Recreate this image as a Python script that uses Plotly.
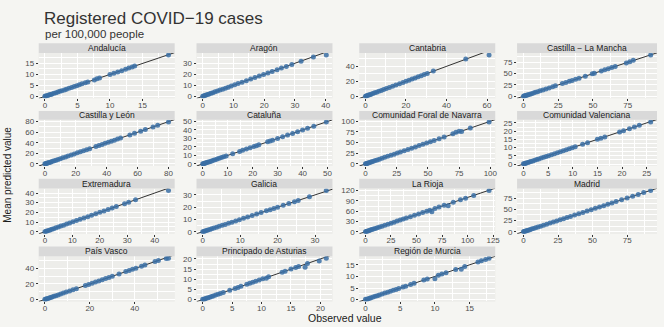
import plotly.graph_objects as go

# observed vs mean predicted values, per region
regions = ["Andalucía", "Aragón", "Cantabria", "Castilla \u2212 La Mancha",
           "Castilla y León", "Cataluña", "Comunidad Foral de Navarra", "Comunidad Valenciana",
           "Extremadura", "Galicia", "La Rioja", "Madrid",
           "País Vasco", "Principado de Asturias", "Región de Murcia"]

andalucia_obs = [0.0, 0.1, 0.3, 0.5, 0.7, 0.9, 1.1, 1.4, 1.7, 2.0, 2.3, 2.6, 3.0, 3.3, 3.7, 4.1, 4.5, 4.9, 5.3, 5.7, 6.2, 6.6, 7.6, 8.0, 8.4, 10.0, 10.6, 11.2, 11.8, 12.4, 12.9, 13.4, 13.8, 19.0]
andalucia_pred = [0.1, 0.2, 0.3, 0.5, 0.7, 0.9, 1.1, 1.4, 1.7, 2.0, 2.3, 2.6, 2.9, 3.3, 3.7, 4.1, 4.5, 4.9, 5.3, 5.7, 6.2, 6.6, 7.5, 8.0, 8.4, 10.0, 10.5, 11.1, 11.7, 12.4, 12.9, 13.4, 13.8, 18.8]

aragon_obs = [0.0, 0.3, 0.7, 1.1, 1.6, 2.1, 2.7, 3.3, 4.0, 4.8, 5.6, 6.5, 7.4, 8.3, 9.3, 10.4, 11.5, 12.8, 14.2, 15.6, 17.0, 18.4, 19.8, 21.2, 22.6, 24.2, 25.6, 27.2, 29.0, 32.0, 36.0, 40.2]
aragon_pred = [0.1, 0.3, 0.7, 1.1, 1.6, 2.1, 2.7, 3.3, 4.0, 4.8, 5.6, 6.4, 7.4, 8.3, 9.3, 10.4, 11.5, 12.8, 14.2, 15.6, 17.0, 18.4, 19.7, 21.2, 22.6, 24.1, 25.6, 27.1, 28.9, 31.8, 35.6, 37.4]

cantabria_obs = [0.0, 0.4, 0.9, 1.5, 2.1, 2.8, 3.6, 4.5, 5.5, 6.6, 7.8, 9.0, 10.3, 11.8, 13.4, 15.0, 16.8, 18.5, 20.0, 21.5, 23.0, 24.5, 26.0, 27.5, 29.0, 30.5, 33.5, 49.5, 61.0]
cantabria_pred = [0.1, 0.4, 0.9, 1.5, 2.1, 2.8, 3.6, 4.5, 5.5, 6.6, 7.8, 9.0, 10.3, 11.8, 13.4, 15.0, 16.8, 18.5, 20.0, 21.5, 23.0, 24.5, 26.0, 27.3, 29.0, 30.5, 33.8, 49.8, 55.0]

clm_obs = [0.0, 0.5, 1.0, 1.8, 2.6, 3.5, 4.6, 5.8, 7.2, 8.6, 10.2, 12.0, 14.0, 16.2, 18.5, 21.0, 23.0, 28.0, 30.5, 33.0, 35.0, 37.5, 40.0, 44.5, 49.5, 51.0, 56.0, 58.5, 61.0, 63.5, 66.0, 74.0, 76.5, 79.0, 91.5]
clm_pred = [0.2, 0.5, 1.0, 1.8, 2.6, 3.5, 4.6, 5.8, 7.2, 8.6, 10.2, 12.0, 14.0, 16.2, 18.5, 21.0, 23.0, 28.0, 30.5, 33.0, 35.0, 37.5, 40.0, 44.5, 49.5, 51.0, 56.0, 58.5, 61.0, 63.5, 66.0, 73.5, 76.5, 79.5, 91.0]

cyl_obs = [0.0, 0.5, 1.0, 1.6, 2.3, 3.0, 3.9, 4.9, 6.0, 7.2, 8.5, 10.0, 11.6, 13.4, 15.0, 17.0, 19.0, 21.0, 23.0, 25.0, 27.0, 29.0, 33.0, 35.0, 37.0, 39.0, 41.0, 43.0, 45.0, 47.0, 49.0, 55.0, 58.0, 62.0, 65.0, 70.0, 73.0, 80.0]
cyl_pred = [0.2, 0.5, 1.0, 1.6, 2.3, 3.0, 3.9, 4.9, 6.0, 7.2, 8.5, 10.0, 11.6, 13.4, 15.0, 17.0, 19.0, 21.0, 23.0, 25.0, 27.0, 29.0, 33.0, 35.0, 37.0, 39.0, 41.0, 43.0, 45.0, 47.0, 49.0, 55.0, 58.0, 62.0, 65.0, 70.0, 73.0, 79.5]

cataluna_obs = [0.0, 0.3, 0.6, 1.0, 1.4, 1.9, 2.4, 3.0, 3.6, 4.3, 5.0, 5.8, 6.6, 7.5, 8.4, 9.4, 12.0, 14.8, 16.0, 17.5, 19.0, 20.5, 21.5, 22.5, 26.0, 27.0, 28.0, 30.0, 32.0, 34.0, 36.0, 38.0, 40.0, 42.0, 44.5, 49.5]
cataluna_pred = [0.1, 0.3, 0.6, 1.0, 1.4, 1.9, 2.4, 3.0, 3.6, 4.3, 5.0, 5.8, 6.6, 7.5, 8.4, 9.4, 12.0, 14.8, 16.0, 17.5, 19.0, 20.5, 21.5, 22.5, 26.0, 27.0, 28.0, 30.0, 32.0, 34.0, 36.0, 38.0, 40.0, 42.0, 44.5, 49.5]

navarra_obs = [0.0, 0.6, 1.2, 2.0, 2.9, 3.9, 5.0, 6.3, 7.8, 9.4, 11.2, 13.2, 15.4, 17.8, 20.4, 23.0, 25.5, 28.0, 31.0, 34.0, 37.0, 40.0, 43.0, 46.0, 49.0, 52.0, 55.0, 59.0, 63.0, 70.0, 72.5, 75.0, 77.0, 84.0, 99.0]
navarra_pred = [0.2, 0.6, 1.2, 2.0, 2.9, 3.9, 5.0, 6.3, 7.8, 9.4, 11.2, 13.2, 15.4, 17.8, 20.4, 23.0, 25.5, 28.0, 31.0, 34.0, 37.0, 40.0, 43.0, 46.0, 49.0, 52.0, 55.0, 59.0, 63.0, 71.0, 74.0, 76.5, 76.0, 84.0, 98.5]

valenciana_obs = [0.0, 0.2, 0.4, 0.6, 0.9, 1.2, 1.5, 1.9, 2.3, 2.7, 3.1, 3.6, 4.1, 4.6, 5.1, 5.7, 6.3, 6.9, 7.5, 8.1, 8.7, 9.3, 9.9, 10.5, 12.0, 13.0, 15.0, 15.7, 16.5, 19.5, 20.3, 21.5, 22.5, 23.5, 25.8]
valenciana_pred = [0.1, 0.2, 0.4, 0.6, 0.9, 1.2, 1.5, 1.9, 2.3, 2.7, 3.1, 3.6, 4.1, 4.6, 5.1, 5.7, 6.3, 6.9, 7.5, 8.1, 8.7, 9.3, 9.9, 10.5, 12.0, 13.0, 15.0, 15.7, 16.5, 19.5, 20.3, 21.5, 22.5, 23.5, 25.6]

extremadura_obs = [0.0, 0.4, 0.8, 1.3, 1.9, 2.5, 3.2, 4.0, 4.9, 5.8, 6.8, 7.9, 9.0, 10.2, 11.5, 12.8, 14.2, 15.6, 17.0, 18.5, 20.0, 21.5, 23.0, 24.5, 26.0, 29.0, 30.5, 33.0, 45.0]
extremadura_pred = [0.1, 0.4, 0.8, 1.3, 1.9, 2.5, 3.2, 4.0, 4.9, 5.8, 6.8, 7.9, 9.0, 10.2, 11.5, 12.8, 14.2, 15.6, 17.0, 18.5, 20.0, 21.5, 23.0, 24.5, 26.0, 29.0, 30.5, 33.0, 42.5]

galicia_obs = [0.0, 0.3, 0.6, 1.0, 1.4, 1.9, 2.4, 3.0, 3.7, 4.4, 5.2, 6.0, 6.9, 7.8, 8.8, 9.8, 10.9, 12.0, 13.2, 14.4, 15.6, 17.0, 18.0, 19.0, 20.0, 21.5, 23.0, 24.5, 25.5, 28.5, 33.0]
galicia_pred = [0.1, 0.3, 0.6, 1.0, 1.4, 1.9, 2.4, 3.0, 3.7, 4.4, 5.2, 6.0, 6.9, 7.8, 8.8, 9.8, 10.9, 12.0, 13.2, 14.4, 15.6, 17.0, 18.0, 19.0, 20.0, 21.5, 23.0, 24.5, 25.5, 28.5, 33.5]

rioja_obs = [0.0, 0.7, 1.5, 2.5, 3.6, 4.8, 6.2, 7.8, 9.6, 11.6, 13.8, 16.2, 19.0, 22.0, 25.0, 28.0, 31.0, 34.0, 37.0, 40.0, 44.0, 48.0, 52.0, 56.0, 60.0, 63.0, 65.0, 68.0, 72.0, 77.0, 81.0, 86.0, 93.0, 98.0, 106.0, 121.0]
rioja_pred = [0.3, 0.7, 1.5, 2.5, 3.6, 4.8, 6.2, 7.8, 9.6, 11.6, 13.8, 16.2, 19.0, 22.0, 25.0, 28.0, 31.0, 34.0, 37.0, 40.0, 44.0, 48.0, 52.0, 56.0, 60.0, 63.0, 58.5, 68.0, 72.0, 77.0, 76.0, 86.0, 93.0, 98.0, 106.0, 120.0]

madrid_obs = [0.0, 0.5, 1.1, 1.8, 2.6, 3.5, 4.6, 5.8, 7.2, 8.8, 10.5, 12.4, 14.5, 16.8, 19.2, 21.6, 24.0, 26.5, 29.0, 31.5, 34.0, 37.0, 40.0, 43.0, 46.0, 49.0, 52.0, 55.0, 58.0, 61.0, 64.0, 67.0, 71.0, 75.0, 79.0, 83.0, 87.0, 92.0]
madrid_pred = [0.2, 0.5, 1.1, 1.8, 2.6, 3.5, 4.6, 5.8, 7.2, 8.8, 10.5, 12.4, 14.5, 16.8, 19.2, 21.6, 24.0, 26.5, 29.0, 31.5, 34.0, 37.0, 40.0, 43.0, 46.0, 49.0, 52.0, 55.0, 58.0, 61.0, 64.0, 67.0, 71.0, 75.0, 79.0, 83.0, 87.0, 91.5]

vasco_obs = [0.0, 0.4, 0.8, 1.3, 1.9, 2.5, 3.2, 4.0, 4.9, 5.9, 7.0, 8.2, 9.5, 11.0, 12.5, 14.0, 18.0, 19.5, 21.0, 22.5, 24.0, 25.5, 27.0, 28.5, 30.0, 33.0, 36.0, 37.5, 39.0, 40.5, 43.0, 44.5, 49.0, 50.5, 54.0, 55.0]
vasco_pred = [0.1, 0.4, 0.8, 1.3, 1.9, 2.5, 3.2, 4.0, 4.9, 5.9, 7.0, 8.2, 9.5, 11.0, 12.5, 14.0, 18.0, 19.5, 21.0, 22.5, 24.0, 25.5, 27.0, 28.5, 30.0, 33.0, 36.0, 37.5, 39.0, 40.5, 43.0, 44.5, 49.0, 50.5, 53.0, 53.2]

asturias_obs = [0.0, 0.2, 0.4, 0.6, 0.9, 1.2, 1.5, 1.8, 2.2, 2.6, 3.0, 3.5, 4.6, 5.5, 6.0, 6.5, 7.5, 8.0, 8.5, 9.0, 9.6, 10.2, 10.8, 11.2, 13.5, 14.0, 15.0, 15.8, 16.3, 17.4, 17.8, 19.8, 21.0]
asturias_pred = [0.1, 0.2, 0.4, 0.6, 0.9, 1.2, 1.5, 1.8, 2.2, 2.6, 3.0, 3.5, 4.6, 5.5, 6.0, 6.5, 7.5, 8.0, 8.5, 9.0, 9.6, 10.2, 10.5, 11.2, 13.5, 14.0, 15.0, 15.8, 16.3, 15.9, 17.7, 19.0, 20.3]

murcia_obs = [0.0, 0.2, 0.4, 0.6, 0.8, 1.1, 1.4, 1.7, 2.0, 2.4, 2.8, 3.2, 3.6, 4.0, 4.4, 4.8, 5.4, 5.8, 6.5, 7.0, 8.4, 8.9, 10.0, 10.5, 11.0, 11.6, 13.0, 13.8, 14.3, 16.2, 16.7, 17.3, 17.8]
murcia_pred = [0.1, 0.2, 0.4, 0.6, 0.8, 1.1, 1.4, 1.7, 2.0, 2.4, 2.8, 3.2, 3.6, 4.0, 4.4, 4.8, 5.4, 5.8, 6.5, 7.0, 8.4, 8.9, 9.0, 10.5, 11.0, 11.6, 13.0, 13.1, 14.3, 16.2, 16.7, 17.3, 17.8]

# tick spacing (x, y) per panel
x_steps = [5, 10, 20, 25, 20, 10, 25, 5, 10, 10, 25, 25, 20, 5, 5]
y_steps = [5, 10, 20, 25, 20, 10, 25, 5, 10, 10, 30, 25, 20, 5, 5]

data = [
    (andalucia_obs, andalucia_pred), (aragon_obs, aragon_pred),
    (cantabria_obs, cantabria_pred), (clm_obs, clm_pred),
    (cyl_obs, cyl_pred), (cataluna_obs, cataluna_pred),
    (navarra_obs, navarra_pred), (valenciana_obs, valenciana_pred),
    (extremadura_obs, extremadura_pred), (galicia_obs, galicia_pred),
    (rioja_obs, rioja_pred), (madrid_obs, madrid_pred),
    (vasco_obs, vasco_pred), (asturias_obs, asturias_pred),
    (murcia_obs, murcia_pred),
]

W, H = 664, 327
BG = "#f5f5f2"
PANEL_BG = "#ededea"
FONT = "Liberation Sans"

# pixel layout of the facet grid
col_px = [(39, 176), (198, 335), (362, 499), (521, 662)]
row_px = [(41, 51, 97), (110, 119, 166), (179, 189, 235), (248, 258, 304)]

fig = go.Figure()
layout = {}
shapes = []
annotations = []

for i, (name, (obs, pred)) in enumerate(zip(regions, data)):
    r, c = divmod(i, 4)
    x0, x1 = col_px[c]
    s0, s1, p1 = row_px[r]
    n = "" if i == 0 else str(i + 1)

    xlo, xhi = min(obs), max(obs)
    ylo, yhi = min(pred), max(pred)
    xpad = (xhi - xlo) * 0.05
    ypad = (yhi - ylo) * 0.05

    tick_style = dict(
        tickmode="linear", tick0=0,
        showgrid=True, gridcolor="white", gridwidth=1, zeroline=False,
        ticks="outside", ticklen=2, tickcolor="#333333", tickwidth=1,
        tickfont=dict(size=8, color="#4d4d4d", family=FONT), showline=False,
    )
    layout["xaxis" + n] = dict(
        domain=[x0 / W, x1 / W], anchor="y" + n, range=[xlo - xpad, xhi + xpad],
        dtick=x_steps[i], ticklabelstandoff=-3,
        minor=dict(dtick=x_steps[i] / 2, tick0=0, showgrid=True, gridcolor="white", gridwidth=0.5),
        **tick_style,
    )
    layout["yaxis" + n] = dict(
        domain=[1 - p1 / H, 1 - s1 / H], anchor="x" + n, range=[ylo - ypad, yhi + ypad],
        dtick=y_steps[i],
        minor=dict(dtick=y_steps[i] / 2, tick0=0, showgrid=True, gridcolor="white", gridwidth=0.5),
        **tick_style,
    )

    # panel background + strip
    shapes.append(dict(type="rect", xref="paper", yref="paper", layer="below",
                       x0=x0 / W, x1=x1 / W, y0=1 - p1 / H, y1=1 - s1 / H,
                       fillcolor=PANEL_BG, line=dict(width=0)))
    shapes.append(dict(type="rect", xref="paper", yref="paper",
                       x0=x0 / W, x1=x1 / W, y0=1 - s1 / H, y1=1 - s0 / H,
                       fillcolor="#d9d9d9", line=dict(width=0)))
    annotations.append(dict(text=name, xref="paper", yref="paper",
                            x=(x0 + x1) / 2 / W, y=1 - (s0 + s1) / 2 / H,
                            showarrow=False, xanchor="center", yanchor="middle",
                            font=dict(size=8.5, color="#1a1a1a", family=FONT)))

    # identity line spanning the panel
    lo = min(xlo - xpad, ylo - ypad)
    hi = max(xhi + xpad, yhi + ypad)
    fig.add_trace(go.Scatter(x=[lo, hi], y=[lo, hi], mode="lines",
                             line=dict(color="black", width=0.8),
                             xaxis="x" + n, yaxis="y" + n, showlegend=False, hoverinfo="skip"))
    fig.add_trace(go.Scatter(x=obs, y=pred, mode="markers",
                             marker=dict(color="#3a6ea5", size=5, opacity=0.85),
                             xaxis="x" + n, yaxis="y" + n, showlegend=False))

annotations += [
    dict(text="Registered COVID\u221219 cases", xref="paper", yref="paper",
         x=42 / W, y=1 - 16 / H, xanchor="left", yanchor="middle", showarrow=False,
         font=dict(size=17, color="#333333", family=FONT)),
    dict(text="per 100,000 people", xref="paper", yref="paper",
         x=43 / W, y=1 - 32 / H, xanchor="left", yanchor="middle", showarrow=False,
         font=dict(size=11.5, color="#333333", family=FONT)),
    dict(text="Observed value", xref="paper", yref="paper",
         x=348 / W, y=1 - 321 / H, xanchor="center", yanchor="middle", showarrow=False,
         font=dict(size=10.5, color="#1a1a1a", family=FONT)),
    dict(text="Mean predicted value", xref="paper", yref="paper",
         x=8 / W, y=1 - 175 / H, xanchor="center", yanchor="middle", showarrow=False,
         textangle=-90, font=dict(size=10, color="#1a1a1a", family=FONT)),
]

fig.update_layout(
    width=W, height=H,
    margin=dict(l=0, r=0, t=0, b=0),
    paper_bgcolor=BG, plot_bgcolor=PANEL_BG,
    font=dict(family=FONT),
    shapes=shapes, annotations=annotations,
    showlegend=False,
    **layout,
)

# drop the page's default body margin so the figure sits at the window's corner
fig.write_html("out.html", config={"displayModeBar": False},
               post_script="document.body.style.margin='0';document.body.style.overflow='hidden';")
